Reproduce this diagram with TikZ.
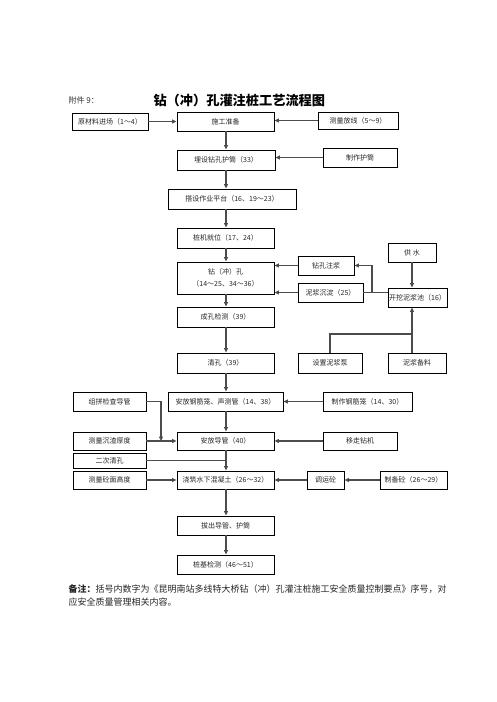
\documentclass[tikz,border=0pt]{standalone}
\usepackage{fontspec}
\setmainfont{Noto Sans CJK SC}
\usetikzlibrary{arrows.meta}
\newcommand{\mybox}[6]{%
 \pgfmathsetmacro\bxcx{(#2+#4)/2}\pgfmathsetmacro\bxcy{(#3+#5)/2}%
 \pgfmathsetmacro\bxw{#4-#2}\pgfmathsetmacro\bxh{#5-#3}%
 \node[box, minimum width=\bxw pt, minimum height=\bxh pt] (#1) at (\bxcx,\bxcy) {#6};}
\begin{document}
\begin{tikzpicture}[x=1pt,y=-1pt,
 box/.style={draw=black, line width=0.8pt, inner sep=0pt, font=\fontsize{7}{9}\selectfont, text=black!85, align=center},
 conn/.style={draw=black!70, line width=1.1pt},
 arr/.style={conn, -{Triangle[length=4.5pt,width=4pt]}},
]
\useasboundingbox[fill=white] (0,0) rectangle (496,702);

\node[anchor=west, font=\fontsize{8}{10}\selectfont, text=black!80] (fj) at (65,100) {附件 9：};
\node[anchor=west, font=\fontsize{13.2}{15}\selectfont\bfseries] (tt) at (150,100) {钻（冲）孔灌注桩工艺流程图};

\mybox{yl}{72}{113}{148}{130}{原材料进场（1～4）}
\mybox{sg}{177}{112}{274}{131}{施工准备}
\mybox{cl}{318}{112}{398}{129}{测量放线（5～9）}
\mybox{mh}{177}{150}{275}{170}{埋设钻孔护筒（33）}
\mybox{zh}{323}{148}{397}{167}{制作护筒}
\mybox{ds}{168}{189}{296}{209}{搭设作业平台（16、19～23）}
\mybox{zj}{177}{228}{274}{248}{桩机就位（17、24）}
\mybox{zk}{177}{262}{274}{294}{钻（冲）孔\\[3pt]（14～25、34～36）}
\mybox{zz}{298}{256}{354}{275}{钻孔注浆}
\mybox{nc}{298}{283}{363}{302}{泥浆沉淀（25）}
\mybox{gs}{388}{243}{436}{262}{供\ 水}
\mybox{wk}{388}{288}{447}{307}{开挖泥浆池（16）}
\mybox{ck}{177}{307}{274}{327}{成孔检测（39）}
\mybox{qk}{177}{353}{274}{373}{清孔（39）}
\mybox{bb}{298}{353}{362}{373}{设置泥浆泵}
\mybox{nb}{388}{353}{446}{373}{泥浆备料}
\mybox{gj}{73}{392}{146}{411}{组拼检查导管}
\mybox{fg}{168}{392}{283}{411}{安放钢筋笼、声测管（14、38）}
\mybox{zg}{323}{392}{412}{411}{制作钢筋笼（14、30）}
\mybox{cz}{73}{432}{146}{450}{测量沉渣厚度}
\mybox{dg}{177}{432}{274}{450}{安放导管（40）}
\mybox{yz}{323}{432}{397}{450}{移走钻机}
\mybox{ec}{73}{453}{146}{468}{二次清孔}
\mybox{mg}{73}{471}{146}{489}{测量砼面高度}
\mybox{jz}{177}{471}{274}{489}{浇筑水下混凝土（26～32）}
\mybox{dy}{307}{471}{344}{489}{调运砼}
\mybox{zb}{380}{471}{447}{489}{制备砼（26～29）}
\mybox{bc}{177}{516}{274}{535}{拔出导管、护筒}
\mybox{jc}{177}{555}{274}{574}{桩基检测（46～51）}

\coordinate (px) at (412,0);
\coordinate (px2) at (412,334);
\coordinate (j1) at (372,0);
\coordinate (j3) at (161,441);
\coordinate (mx) at (226,0);

\draw[arr] (yl.east) -- (yl.east -| sg.west);
\draw[arr] (cl.west) -- (cl.west -| sg.east);
\draw[arr] (sg.south -| mx) -- (mh.north -| mx);
\draw[arr] (zh.west) -- (zh.west -| mh.east);
\draw[arr] (mh.south -| mx) -- (ds.north -| mx);
\draw[arr] (ds.south -| mx) -- (zj.north -| mx);
\draw[arr] (zj.south -| mx) -- (zk.north -| mx);
\draw[arr] (zz.west) -- (zz.west -| zk.east);
\draw[arr] (nc.west) -- (nc.west -| zk.east);
\draw[arr] (gs.south -| px) -- (wk.north -| px);
\draw[conn] (nc.east) -- (nc.east -| wk.west);
\draw[arr] (nc.east -| j1) |- (zz.east);
\draw[arr] (nb.north -| px) -- (wk.south -| px);
\draw[conn] (bb.north) |- (px2);
\draw[arr] (zk.south -| mx) -- (ck.north -| mx);
\draw[arr] (ck.south -| mx) -- (qk.north -| mx);
\draw[arr] (qk.south -| mx) -- (fg.north -| mx);
\draw[arr] (zg.west) -- (zg.west -| fg.east);
\draw[arr] (fg.south -| mx) -- (dg.north -| mx);
\draw[arr] (gj.east) -| (j3);
\draw[arr] (cz.east) -- (cz.east -| dg.west);
\draw[arr] (yz.west) -- (yz.west -| dg.east);
\draw[arr] (dg.south -| mx) -- (jz.north -| mx);
\draw[conn] (ec.east) -- (ec.east -| mx);
\draw[arr] (mg.east) -- (mg.east -| jz.west);
\draw[arr] (dy.west) -- (dy.west -| jz.east);
\draw[arr] (zb.west) -- (zb.west -| dy.east);
\draw[arr] (jz.south -| mx) -- (bc.north -| mx);
\draw[arr] (bc.south -| mx) -- (jc.north -| mx);

\node[anchor=west, font=\fontsize{9}{13}\selectfont, text=black!85, align=left] (note) at (65,595.5)
 {\textbf{备注：}括号内数字为《昆明南站多线特大桥钻（冲）孔灌注桩施工安全质量控制要点》序号，对\\应安全质量管理相关内容。};
\end{tikzpicture}
\end{document}
